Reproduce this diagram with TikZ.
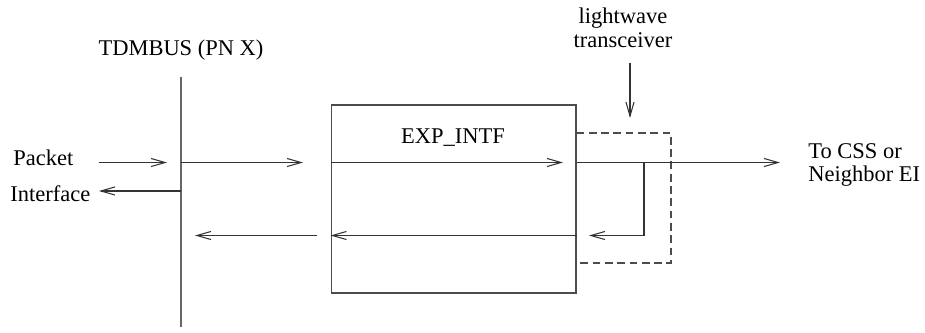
\documentclass[tikz,border=0pt]{standalone}
\usepackage{fontspec}
\setmainfont{Liberation Serif}
\usetikzlibrary{arrows.meta, positioning, calc}
\tikzset{
    lbl/.style={inner sep=0pt, font=\fontsize{12.8}{13.6}\selectfont},
    block/.style={draw=black!70, line width=0.6pt, inner sep=0pt,
                  minimum width=4.9cm, minimum height=3.76cm},
    wire/.style={-, line width=0.6pt, black!80},
    sig/.style={wire, -{Straight Barb[length=8pt, width=4.6pt]}},
    bus/.style={-, line width=0.8pt, black!60},
    xcvr/.style={-, line width=0.6pt, black!70, dash pattern=on 4.4pt off 2.6pt},
}
\begin{document}
\begin{tikzpicture}[x=0.02cm, y=-0.02cm]
    \useasboundingbox (0,0) rectangle (925,332);
    % TDM bus
    \node[lbl, anchor=base] (busname) at (181,55) {TDMBUS (PN X)};
    \coordinate (bustop) at (181,77);
    \coordinate (busbot) at (181,327);
    \draw[bus] (bustop) -- (busbot);
    % packet interface side
    \node[lbl, anchor=base west] (pkt) at (13,165) {Packet};
    \node[lbl, anchor=base west] (ifc) at (10,201) {Interface};
    \coordinate (pktin)  at (99,162.5);
    \coordinate (pktbus) at (167,162.5);
    \coordinate (bustx)  at (181,162.5);
    \coordinate (txend)  at (303,162.5);
    \coordinate (busrx)  at (181,191);
    \coordinate (rxout)  at (99,191);
    \coordinate (rxfrom) at (317,235.5);
    \coordinate (rxend)  at (195,235.5);
    \draw[sig] (pktin) -- (pktbus);
    \draw[sig] (bustx) -- (txend);
    \draw[sig] (busrx) -- (rxout);
    \draw[sig] (rxfrom) -- (rxend);
    % interface block
    \node[block] (intf) at (453.5,199) {};
    \node[lbl, anchor=base] (intfname) at (453,143) {EXP\_INTF};
    \coordinate (txtip) at (563,162.5);
    \coordinate (rxrow) at (0,235.5);
    \draw[sig] (intf.west |- txtip) -- (txtip);
    \draw[sig] (intf.east |- rxrow) -- (intf.west |- rxrow);
    % lightwave transceiver
    \coordinate (xtr) at (671,133);
    \coordinate (xbr) at (671,263);
    \draw[xcvr] (intf.east |- xtr) -- (xtr) -- (xbr) -- (intf.east |- xbr);
    \node[lbl, align=center] (xcvrname) at (623,28) {lightwave\\transceiver};
    \coordinate (xarrtop) at (630,63);
    \coordinate (xarrtip) at (630,118);
    \draw[sig] (xarrtop) -- (xarrtip);
    % output and loop back
    \coordinate (outtip) at (780,162.5);
    \coordinate (loop)   at (644,162.5);
    \coordinate (looptip) at (589,235.5);
    \draw[sig] (intf.east |- txtip) -- (outtip);
    \draw[sig] (loop) |- (looptip);
    \node[lbl, align=left, anchor=west] (css) at (808,165) {To CSS or\\Neighbor EI};
\end{tikzpicture}
\end{document}
